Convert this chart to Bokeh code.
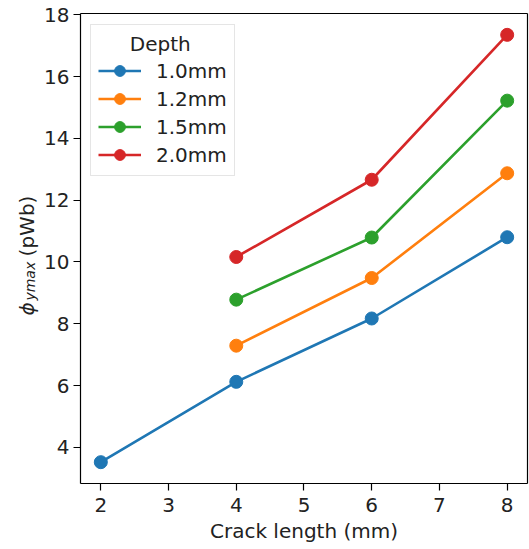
import math
from bokeh.plotting import figure
from bokeh.models import Range1d, FixedTicker, Legend, Label, LinearAxis
from bokeh.embed import file_html
from bokeh.resources import INLINE

# ---- data ----
crack_all = [2, 4, 6, 8]
crack_part = [4, 6, 8]
depth_labels = ["1.0mm", "1.2mm", "1.5mm", "2.0mm"]
phi_10 = [3.52, 6.12, 8.17, 10.80]
phi_12 = [7.29, 9.48, 12.87]
phi_15 = [8.78, 10.79, 15.22]
phi_20 = [10.16, 12.66, 17.35]
x_ticks = [2, 3, 4, 5, 6, 7, 8]
y_ticks = [4, 6, 8, 10, 12, 14, 16, 18]
colors = ["#1f77b4", "#ff7f0e", "#2ca02c", "#d62728"]

FONT = "DejaVu Sans"
TXT = "#222222"
X_LO, X_HI = 1.70, 8.30      # axes box (data units)
Y_LO, Y_HI = 2.83, 18.04

# The plot frame covers the whole canvas so that the drawn axis titles are not clipped;
# the axes box is formed by fixed-location axes at the box edges.
p = figure(width=529, height=549, output_backend="svg", toolbar_location=None,
           x_range=Range1d(0.519, 8.3295), y_range=Range1d(0.694, 18.461),
           min_border_left=0, min_border_right=0, min_border_top=0, min_border_bottom=0)
p.grid.visible = False
p.outline_line_color = None
p.background_fill_color = "white"
p.border_fill_color = "white"

series = [(crack_all, phi_10), (crack_part, phi_12), (crack_part, phi_15), (crack_part, phi_20)]
items = []
for (xs, ys), lab, c in zip(series, depth_labels, colors):
    r1 = p.line(xs, ys, line_color=c, line_width=2.6)
    r2 = p.scatter(xs, ys, size=13, fill_color=c, line_color=c)
    items.append((lab, [r1, r2]))

legend = Legend(items=items, location=(90, 373), title="\u00a0" * 5 + "Depth")
legend.padding = 7
legend.title_text_font = FONT
legend.title_text_font_size = "20px"
legend.title_text_font_style = "normal"
legend.title_text_color = TXT
legend.title_standoff = 1
legend.label_text_font = FONT
legend.label_text_font_size = "20px"
legend.label_text_color = TXT
legend.glyph_width = 43
legend.glyph_height = 27
legend.label_height = 27
legend.spacing = 1
legend.label_standoff = 15
legend.border_line_color = "#cccccc"
legend.border_line_width = 1
legend.background_fill_color = "white"
legend.background_fill_alpha = 0.85
p.add_layout(legend)

def style(ax):
    ax.major_label_text_font = FONT
    ax.major_label_text_font_size = "20px"
    ax.major_label_text_color = TXT
    ax.axis_line_color = "black"
    ax.axis_line_width = 1.2
    ax.major_tick_line_color = "black"
    ax.major_tick_line_width = 1.2
    ax.major_tick_out = 7
    ax.major_tick_in = 0
    ax.minor_tick_out = 0
    ax.minor_tick_in = 0

xa = p.xaxis[0]
ya = p.yaxis[0]
style(xa)
style(ya)
xa.ticker = FixedTicker(ticks=x_ticks)
xa.fixed_location = Y_LO
xa.bounds = (X_LO, X_HI)
xa.major_label_standoff = 8

ya.ticker = FixedTicker(ticks=y_ticks)
ya.fixed_location = X_LO
ya.bounds = (Y_LO, Y_HI)
ya.major_label_standoff = 4

# top and right spines
top = LinearAxis(fixed_location=Y_HI, bounds=(X_LO, X_HI), ticker=FixedTicker(ticks=[]),
                 major_label_text_color=None, major_tick_line_color=None,
                 minor_tick_line_color=None, axis_line_color="black", axis_line_width=1.2)
right = LinearAxis(fixed_location=X_HI, bounds=(Y_LO, Y_HI), ticker=FixedTicker(ticks=[]),
                   major_label_text_color=None, major_tick_line_color=None,
                   minor_tick_line_color=None, axis_line_color="black", axis_line_width=1.2)
p.add_layout(top, "above")
p.add_layout(right, "right")

# axis titles
p.add_layout(Label(x=(X_LO + X_HI) / 2, y=1.30, text="Crack length (mm)", text_align="center",
                   text_baseline="alphabetic", text_font=FONT, text_font_size="20px",
                   text_color=TXT))

ang = math.pi / 2
common = dict(angle=ang, text_align="left", text_baseline="alphabetic",
              text_font=FONT, text_color=TXT)
p.add_layout(Label(x=0.910, y=8.27, text="ϕ", text_font_size="20px",
                   text_font_style="italic", **common))
p.add_layout(Label(x=0.954, y=8.75, text="ymax", text_font_size="14px",
                   text_font_style="italic", **common))
p.add_layout(Label(x=0.910, y=10.18, text="(pWb)", text_font_size="20px",
                   text_font_style="normal", **common))

open("out.html", "w").write(file_html(p, INLINE))
